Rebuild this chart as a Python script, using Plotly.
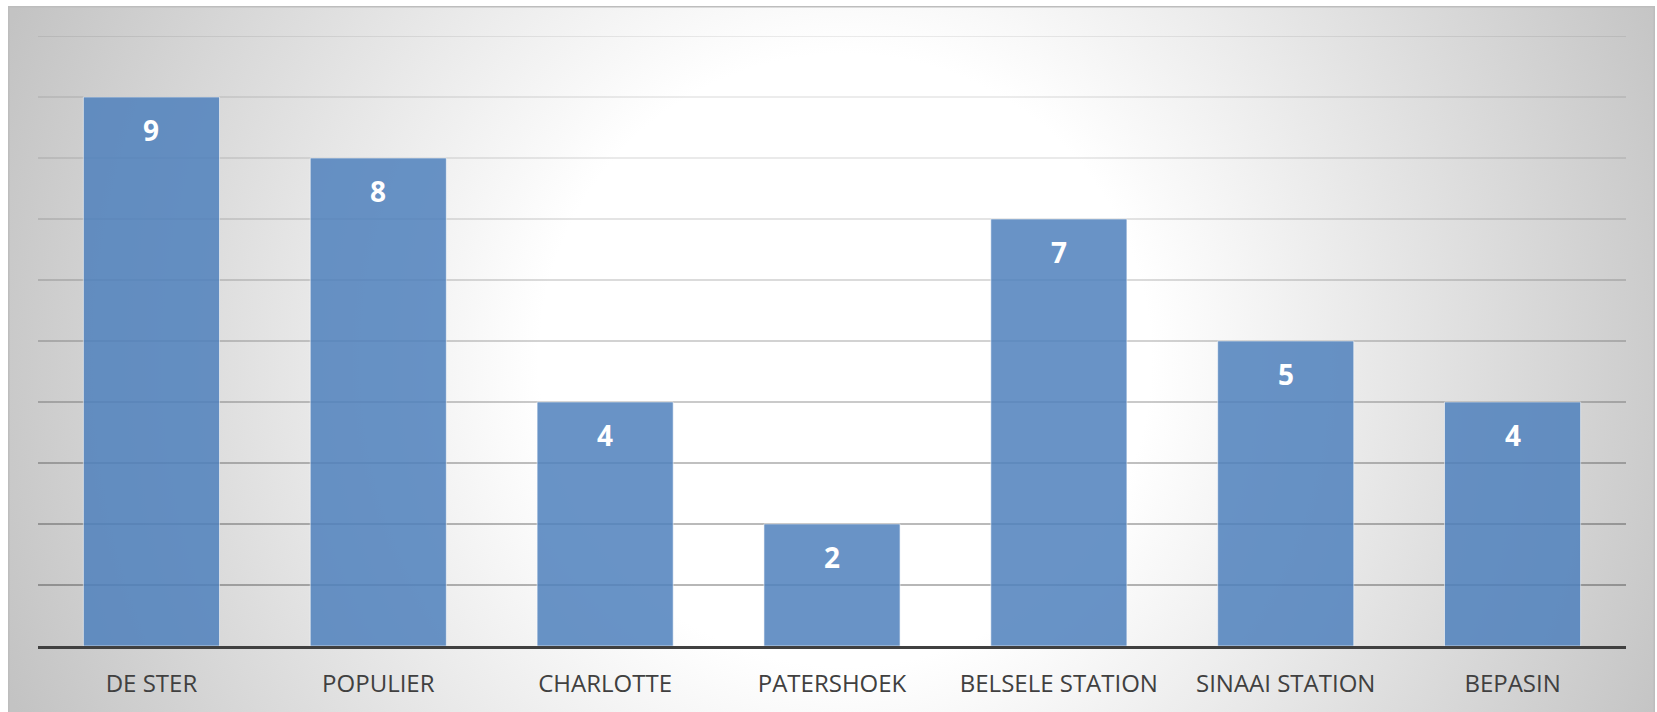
import base64
import plotly.graph_objects as go

categories = ["DE STER", "POPULIER", "CHARLOTTE", "PATERSHOEK",
              "BELSELE STATION", "SINAAI STATION", "BEPASIN"]
values = [9, 8, 4, 2, 7, 5, 4]

grid_levels = [1, 2, 3, 4, 5, 6, 7, 8, 9, 10]
grid_alpha = [0.38, 0.36, 0.33, 0.28, 0.24, 0.19, 0.14, 0.11, 0.10, 0.10]

W, H = 1657, 712
L, R, T, B = 38, 31, 36, 66
pw, ph = W - L - R, H - T - B

# background radial gradient as an SVG image
bx0, by0, bx1, by1 = 8, 6, 1655, 712
bw, bh = bx1 - bx0, by1 - by0
svg = f'''<svg xmlns="http://www.w3.org/2000/svg" width="{bw}" height="{bh}" viewBox="0 0 {bw} {bh}" preserveAspectRatio="none">
<defs><radialGradient id="g" gradientUnits="userSpaceOnUse" cx="837" cy="354" r="900">
<stop offset="0" stop-color="#ffffff"/><stop offset="0.34" stop-color="#ffffff"/><stop offset="1" stop-color="#c3c3c3"/>
</radialGradient></defs>
<rect x="0" y="0" width="{bw}" height="{bh}" fill="url(#g)"/>
<rect x="0.75" y="0.75" width="{bw-1.5}" height="{bh+10}" fill="none" stroke="#bdbdbd" stroke-width="1.5"/>
</svg>'''
src = "data:image/svg+xml;base64," + base64.b64encode(svg.encode()).decode()

fig = go.Figure()
fig.add_trace(go.Bar(
    x=categories, y=values,
    marker=dict(color="#4F81BD", opacity=0.85,
                line=dict(color="rgba(255,255,255,0.6)", width=1)),
    hoverinfo="skip",
))

for c, v in zip(categories, values):
    fig.add_annotation(x=c, y=v, xref="x", yref="y", text=f"<b>{v}</b>",
                       showarrow=False, yanchor="middle", yshift=-33,
                       font=dict(family="Open Sans", size=28, color="white"))

for lvl, a in zip(grid_levels, grid_alpha):
    fig.add_shape(type="line", xref="paper", yref="y", x0=0, x1=1, y0=lvl, y1=lvl,
                  line=dict(color=f"rgba(0,0,0,{a})", width=1.3), layer="below")

fig.add_layout_image(
    source=src, xref="paper", yref="paper",
    x=(bx0 - L) / pw, y=1 + (T - by0) / ph,
    sizex=bw / pw, sizey=bh / ph,
    xanchor="left", yanchor="top", sizing="stretch", layer="below",
)

fig.update_layout(
    width=W, height=H,
    margin=dict(l=L, r=R, t=T, b=B, pad=0),
    paper_bgcolor="white", plot_bgcolor="rgba(0,0,0,0)",
    bargap=0.4, showlegend=False,
    xaxis=dict(showline=True, linecolor="#404040", linewidth=3,
               ticks="outside", ticklen=14, tickcolor="rgba(0,0,0,0)",
               tickfont=dict(family="Open Sans", size=24, color="#404040"),
               showgrid=False, fixedrange=True),
    yaxis=dict(range=[0, 10], showgrid=False, zeroline=False,
               showticklabels=False, fixedrange=True),
)

fig.write_html(
    "out.html",
    config={"displayModeBar": False},
    post_script="document.body.style.margin='0';document.body.style.overflow='hidden';",
)
